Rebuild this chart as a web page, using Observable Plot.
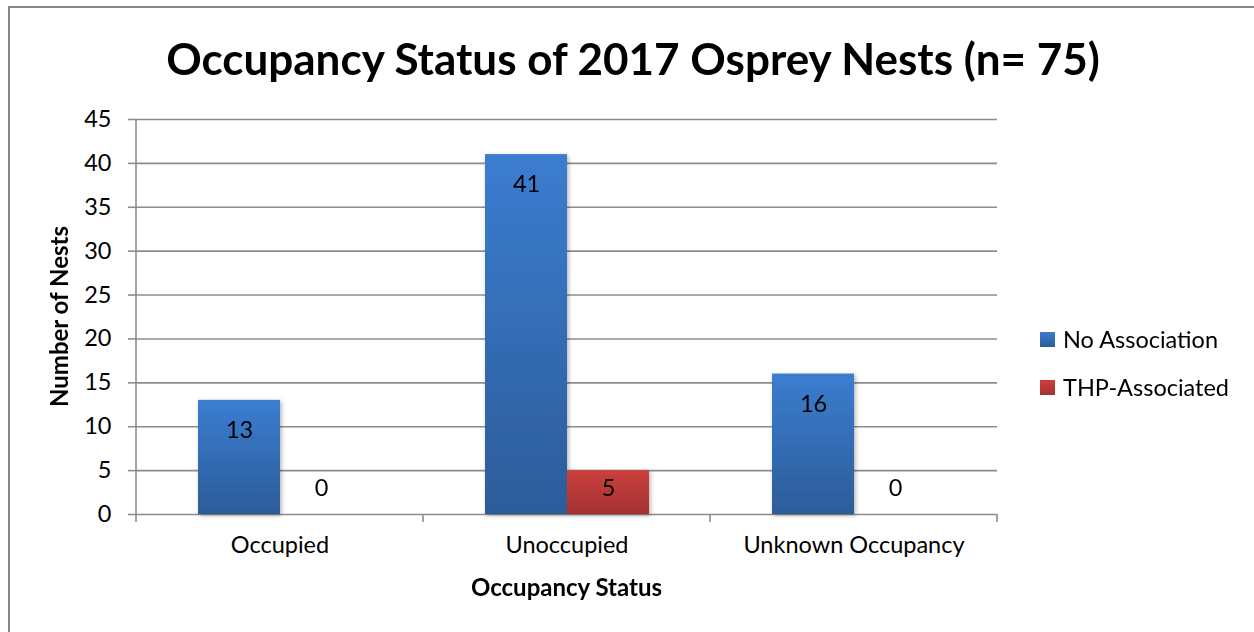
<!DOCTYPE html>
<html>
<head>
<meta charset="utf-8">
<script src="https://cdn.jsdelivr.net/npm/d3@7"></script>
<script src="https://cdn.jsdelivr.net/npm/@observablehq/plot@0.6"></script>
<style>
  html, body { margin: 0; padding: 0; background: #fff; }
  #chart { width: 1254px; height: 632px; overflow: hidden; }
  svg { display: block; }
</style>
</head>
<body>
<div id="chart"></div>
<script>
// ---- Data ----
const categories = ["Occupied", "Unoccupied", "Unknown Occupancy"];
const seriesNames = ["No Association", "THP-Associated"];
const noAssociation = [13, 41, 16];
const thpAssociated = [0, 5, 0];
const yTicks = [0, 5, 10, 15, 20, 25, 30, 35, 40, 45];
const titleText = "Occupancy Status of 2017 Osprey Nests (n= 75)";
const xTitle = "Occupancy Status";
const yTitle = "Number of Nests";

const seriesValues = [noAssociation, thpAssociated];
const data = categories.flatMap((c, i) =>
  seriesNames.map((s, j) => ({category: c, series: s, value: seriesValues[j][i]}))
);

const FONT = "Lato, 'Open Sans', sans-serif";
const GRID = "#8c8c8c";
const FS = 23.5;

const plot = Plot.plot({
  width: 1254,
  height: 632,
  marginLeft: 135,
  marginRight: 256,
  marginTop: 119,
  marginBottom: 118,
  style: {fontFamily: FONT, fontSize: FS + "px", color: "#000", background: "transparent", overflow: "visible"},
  fx: {domain: categories, padding: 0, label: null},
  x: {domain: seriesNames, paddingInner: 0, paddingOuter: 0.733, axis: null},
  y: {domain: [0, 45], label: null},
  color: {domain: seriesNames, range: ["url(#gradBlue)", "url(#gradRed)"]},
  marks: [
    Plot.ruleY(yTicks, {stroke: GRID, strokeWidth: 1.6}),
    Plot.axisY({ticks: yTicks, tickSize: 8, tickPadding: 17, stroke: GRID, strokeWidth: 1.6, strokeOpacity: 1, fill: "#000", label: null, fontSize: FS}),
    Plot.axisFx({anchor: "bottom", tickSize: 0, tickPadding: 22, label: null, fill: "#000", fontSize: FS}),
    Plot.barY(data, {fx: "category", x: "series", y: "value", fill: "series", inset: 0}),
    Plot.text(data, {fx: "category", x: "series", y: d => Math.max(d.value, 6.4), dy: 30, text: d => String(d.value), fill: "#000", fontSize: FS})
  ]
});

document.getElementById("chart").appendChild(plot);

// ---- Decorations derived from the plot's scales ----
const svg = d3.select(plot);
const fx = plot.scale("fx");
const y = plot.scale("y");
const left = fx.apply(categories[0]);
const right = fx.apply(categories[categories.length - 1]) + fx.bandwidth;
const y0 = y.apply(0);
const yTop = y.apply(45);

const defs = svg.insert("defs", ":first-child");
function grad(id, top, bottom) {
  const g = defs.append("linearGradient").attr("id", id).attr("x1", 0).attr("y1", 0).attr("x2", 0).attr("y2", 1);
  g.append("stop").attr("offset", "0%").attr("stop-color", top);
  g.append("stop").attr("offset", "100%").attr("stop-color", bottom);
}
grad("gradBlue", "#3b7dd0", "#2c5c99");
grad("gradRed", "#cc403d", "#a33131");
const f = defs.append("filter").attr("id", "shadow").attr("x", "-20%").attr("y", "-20%").attr("width", "140%").attr("height", "140%");
f.append("feDropShadow").attr("dx", 1.5).attr("dy", 1.5).attr("stdDeviation", 2).attr("flood-color", "#000").attr("flood-opacity", 0.3);
svg.selectAll("g[aria-label='bar']").attr("filter", "url(#shadow)");

// Outer border
svg.append("rect")
  .attr("x", 9).attr("y", 7).attr("width", 1300).attr("height", 700)
  .attr("fill", "none").attr("stroke", "#878787").attr("stroke-width", 2);

// Y axis line
svg.append("line")
  .attr("x1", left).attr("x2", left).attr("y1", yTop).attr("y2", y0 + 1)
  .attr("stroke", GRID).attr("stroke-width", 1.6);

// Category boundary ticks under baseline
const bounds = categories.map(c => fx.apply(c)).concat([right]);
svg.append("g").selectAll("line").data(bounds).join("line")
  .attr("x1", d => d).attr("x2", d => d).attr("y1", y0).attr("y2", y0 + 8)
  .attr("stroke", GRID).attr("stroke-width", 1.6);

// Title
svg.append("text")
  .attr("x", 633).attr("y", 75)
  .attr("text-anchor", "middle")
  .attr("font-family", FONT).attr("font-weight", "bold").attr("font-size", 44)
  .attr("fill", "#000")
  .text(titleText);

// Axis titles
svg.append("text")
  .attr("x", (left + right) / 2).attr("y", 596)
  .attr("text-anchor", "middle")
  .attr("font-family", FONT).attr("font-weight", "bold").attr("font-size", 24)
  .attr("fill", "#000")
  .text(xTitle);

svg.append("text")
  .attr("transform", `translate(68,${(y0 + yTop) / 2}) rotate(-90)`)
  .attr("text-anchor", "middle")
  .attr("font-family", FONT).attr("font-weight", "bold").attr("font-size", 24)
  .attr("fill", "#000")
  .text(yTitle);

// Legend
const legend = svg.append("g").attr("transform", "translate(1040,332)");
seriesNames.forEach((s, i) => {
  const g = legend.append("g").attr("transform", `translate(0,${i * 48})`);
  g.append("rect").attr("width", 15).attr("height", 15).attr("fill", i === 0 ? "url(#gradBlue)" : "url(#gradRed)");
  g.append("text").attr("x", 23).attr("y", 8).attr("dy", "0.35em")
    .attr("text-anchor", "start")
    .attr("font-family", FONT).attr("font-size", FS).attr("fill", "#000")
    .text(s);
});
</script>
</body>
</html>
